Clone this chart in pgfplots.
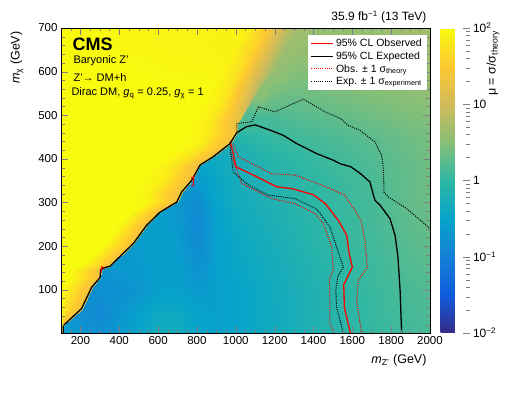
\documentclass[border=0pt]{standalone}
\usepackage{fontspec}
\setmainfont{Liberation Sans}
\usepackage{pgfplots}
\pgfplotsset{compat=1.18}

% ROOT kBird palette
\pgfplotsset{colormap={bird}{
  rgb=(0.2082,0.1664,0.5293) rgb=(0.0592,0.3599,0.8684)
  rgb=(0.0780,0.5041,0.8385) rgb=(0.0232,0.6419,0.7914)
  rgb=(0.1802,0.7178,0.6425) rgb=(0.5301,0.7492,0.4662)
  rgb=(0.8186,0.7328,0.3499) rgb=(0.9956,0.7862,0.1968)
  rgb=(0.9764,0.9832,0.0539)}}

\begin{document}
\begin{tikzpicture}
\path[use as bounding box] (-61pt,-59pt) rectangle (446pt,333pt);
\begin{axis}[
  at={(0pt,0pt)}, anchor=south west,
  scale only axis, width=369pt, height=305pt,
  xmin=100, xmax=2000, ymin=1, ymax=700,
  xtick={200,400,...,2000}, ytick={100,200,...,700},
  minor xtick={150,200,...,2000}, minor ytick={20,40,...,700},
  tick align=inside, major tick length=7pt, minor tick length=3.5pt,
  tick label style={font=\fontsize{11.5}{13}\selectfont},
  /pgf/number format/assume math mode=true,
  /pgf/number format/1000 sep={},
  axis on top,
  colormap name=bird,
  point meta min=-2, point meta max=2,
  colorbar,
  colorbar style={
    at={(parent axis.north east)}, anchor=north west, xshift=2pt,
    scale only axis, width=29pt, height=305pt,
    ytick={-2,-1,0,1,2},
    yticklabels={10\textsuperscript{−2},10\textsuperscript{−1},1,10,10\textsuperscript{2}},
    minor ytick={-1.699,-1.523,-1.398,-1.301,-1.222,-1.155,-1.097,-1.046,
                 -0.699,-0.523,-0.398,-0.301,-0.222,-0.155,-0.097,-0.046,
                 0.301,0.477,0.602,0.699,0.778,0.845,0.903,0.954,
                 1.301,1.477,1.602,1.699,1.778,1.845,1.903,1.954},
    ytick pos=right, yticklabel pos=right,
    tick align=inside, major tick length=7pt, minor tick length=3.5pt,
    axis line style={draw=none},
    yticklabel style={font=\fontsize{12}{13}\selectfont},
  },
  legend style={at={(0.992,0.977)}, anchor=north east, draw=none, fill=white,
    font=\fontsize{10.5}{12}\selectfont, inner xsep=3pt, inner ysep=2pt, row sep=-0.5pt},
  legend cell align=left,
  legend image code/.code={\draw[mark repeat=2,mark phase=2,#1]
    plot coordinates {(0pt,0pt) (11pt,0pt) (22pt,0pt)};},
]

% background field, log10(mu)
\addplot[surf, shader=interp, forget plot, point meta=explicit, mesh/cols=20] table[row sep=\\, meta=L] {
x y L\\
100 0 -0.55\\ 200 0 -0.7\\ 300 0 -0.8\\ 400 0 -0.65\\ 500 0 -0.5\\ 600 0 -0.3\\ 700 0 -0.3\\ 800 0 -0.5\\ 900 0 -0.55\\ 1000 0 -0.5\\ 1100 0 -0.42\\ 1200 0 -0.35\\ 1300 0 -0.27\\ 1400 0 -0.18\\ 1500 0 -0.1\\ 1600 0 -0.03\\ 1700 0 0.03\\ 1800 0 0.08\\ 1900 0 0.12\\ 2000 0 0.15\\
100 50 -0.65\\ 200 50 -0.8\\ 300 50 -0.9\\ 400 50 -0.7\\ 500 50 -0.55\\ 600 50 -0.4\\ 700 50 -0.4\\ 800 50 -0.5\\ 900 50 -0.55\\ 1000 50 -0.5\\ 1100 50 -0.42\\ 1200 50 -0.35\\ 1300 50 -0.27\\ 1400 50 -0.18\\ 1500 50 -0.1\\ 1600 50 -0.02\\ 1700 50 0.04\\ 1800 50 0.1\\ 1900 50 0.14\\ 2000 50 0.17\\
100 100 -0.65\\ 200 100 -0.75\\ 300 100 -0.8\\ 400 100 -0.8\\ 500 100 -0.7\\ 600 100 -0.55\\ 700 100 -0.55\\ 800 100 -0.65\\ 900 100 -0.55\\ 1000 100 -0.5\\ 1100 100 -0.42\\ 1200 100 -0.33\\ 1300 100 -0.25\\ 1400 100 -0.16\\ 1500 100 -0.08\\ 1600 100 0.0\\ 1700 100 0.06\\ 1800 100 0.12\\ 1900 100 0.16\\ 2000 100 0.2\\
100 150 -0.65\\ 200 150 -0.65\\ 300 150 -0.7\\ 400 150 -0.65\\ 500 150 -0.65\\ 600 150 -0.55\\ 700 150 -0.57\\ 800 150 -0.75\\ 900 150 -0.55\\ 1000 150 -0.45\\ 1100 150 -0.38\\ 1200 150 -0.3\\ 1300 150 -0.22\\ 1400 150 -0.13\\ 1500 150 -0.05\\ 1600 150 0.02\\ 1700 150 0.08\\ 1800 150 0.14\\ 1900 150 0.2\\ 2000 150 0.24\\
100 200 -0.65\\ 200 200 -0.65\\ 300 200 -0.65\\ 400 200 -0.65\\ 500 200 -0.6\\ 600 200 -0.55\\ 700 200 -0.6\\ 800 200 -0.85\\ 900 200 -0.55\\ 1000 200 -0.42\\ 1100 200 -0.34\\ 1200 200 -0.26\\ 1300 200 -0.18\\ 1400 200 -0.09\\ 1500 200 -0.02\\ 1600 200 0.05\\ 1700 200 0.1\\ 1800 200 0.17\\ 1900 200 0.24\\ 2000 200 0.28\\
100 250 -0.65\\ 200 250 -0.65\\ 300 250 -0.65\\ 400 250 -0.65\\ 500 250 -0.6\\ 600 250 -0.55\\ 700 250 -0.65\\ 800 250 -0.9\\ 900 250 -0.55\\ 1000 250 -0.38\\ 1100 250 -0.3\\ 1200 250 -0.22\\ 1300 250 -0.13\\ 1400 250 -0.06\\ 1500 250 0.0\\ 1600 250 0.06\\ 1700 250 0.12\\ 1800 250 0.2\\ 1900 250 0.27\\ 2000 250 0.32\\
100 300 -0.65\\ 200 300 -0.65\\ 300 300 -0.65\\ 400 300 -0.65\\ 500 300 -0.6\\ 600 300 -0.55\\ 700 300 -0.65\\ 800 300 -0.85\\ 900 300 -0.5\\ 1000 300 -0.33\\ 1100 300 -0.26\\ 1200 300 -0.17\\ 1300 300 -0.09\\ 1400 300 -0.03\\ 1500 300 0.03\\ 1600 300 0.08\\ 1700 300 0.14\\ 1800 300 0.22\\ 1900 300 0.3\\ 2000 300 0.35\\
100 350 -0.65\\ 200 350 -0.65\\ 300 350 -0.65\\ 400 350 -0.65\\ 500 350 -0.6\\ 600 350 -0.55\\ 700 350 -0.6\\ 800 350 -0.65\\ 900 350 -0.45\\ 1000 350 -0.3\\ 1100 350 -0.22\\ 1200 350 -0.13\\ 1300 350 -0.06\\ 1400 350 0.0\\ 1500 350 0.05\\ 1600 350 0.1\\ 1700 350 0.16\\ 1800 350 0.24\\ 1900 350 0.3\\ 2000 350 0.36\\
100 400 -0.55\\ 200 400 -0.55\\ 300 400 -0.55\\ 400 400 -0.55\\ 500 400 -0.55\\ 600 400 -0.5\\ 700 400 -0.5\\ 800 400 -0.48\\ 900 400 -0.38\\ 1000 400 -0.26\\ 1100 400 -0.17\\ 1200 400 -0.08\\ 1300 400 -0.02\\ 1400 400 0.04\\ 1500 400 0.1\\ 1600 400 0.13\\ 1700 400 0.19\\ 1800 400 0.26\\ 1900 400 0.32\\ 2000 400 0.38\\
100 450 -0.4\\ 200 450 -0.4\\ 300 450 -0.4\\ 400 450 -0.4\\ 500 450 -0.4\\ 600 450 -0.4\\ 700 450 -0.4\\ 800 450 -0.38\\ 900 450 -0.25\\ 1000 450 -0.12\\ 1100 450 -0.02\\ 1200 450 0.05\\ 1300 450 0.1\\ 1400 450 0.13\\ 1500 450 0.17\\ 1600 450 0.21\\ 1700 450 0.26\\ 1800 450 0.31\\ 1900 450 0.36\\ 2000 450 0.41\\
100 500 0.4\\ 200 500 0.4\\ 300 500 0.4\\ 400 500 0.4\\ 500 500 0.4\\ 600 500 0.4\\ 700 500 0.4\\ 800 500 0.4\\ 900 500 0.4\\ 1000 500 0.3\\ 1100 500 0.15\\ 1200 500 0.17\\ 1300 500 0.22\\ 1400 500 0.26\\ 1500 500 0.29\\ 1600 500 0.33\\ 1700 500 0.37\\ 1800 500 0.41\\ 1900 500 0.45\\ 2000 500 0.48\\
100 550 0.6\\ 200 550 0.6\\ 300 550 0.6\\ 400 550 0.6\\ 500 550 0.6\\ 600 550 0.6\\ 700 550 0.6\\ 800 550 0.6\\ 900 550 0.6\\ 1000 550 0.6\\ 1100 550 0.6\\ 1200 550 0.4\\ 1300 550 0.35\\ 1400 550 0.38\\ 1500 550 0.42\\ 1600 550 0.45\\ 1700 550 0.48\\ 1800 550 0.51\\ 1900 550 0.54\\ 2000 550 0.57\\
100 600 0.7\\ 200 600 0.7\\ 300 600 0.7\\ 400 600 0.7\\ 500 600 0.7\\ 600 600 0.7\\ 700 600 0.7\\ 800 600 0.7\\ 900 600 0.7\\ 1000 600 0.7\\ 1100 600 0.7\\ 1200 600 0.6\\ 1300 600 0.48\\ 1400 600 0.48\\ 1500 600 0.5\\ 1600 600 0.53\\ 1700 600 0.55\\ 1800 600 0.57\\ 1900 600 0.6\\ 2000 600 0.62\\
100 650 0.7\\ 200 650 0.7\\ 300 650 0.7\\ 400 650 0.7\\ 500 650 0.7\\ 600 650 0.7\\ 700 650 0.7\\ 800 650 0.7\\ 900 650 0.7\\ 1000 650 0.7\\ 1100 650 0.7\\ 1200 650 0.7\\ 1300 650 0.62\\ 1400 650 0.55\\ 1500 650 0.55\\ 1600 650 0.57\\ 1700 650 0.59\\ 1800 650 0.61\\ 1900 650 0.63\\ 2000 650 0.65\\
100 700 0.7\\ 200 700 0.7\\ 300 700 0.7\\ 400 700 0.7\\ 500 700 0.7\\ 600 700 0.7\\ 700 700 0.7\\ 800 700 0.7\\ 900 700 0.7\\ 1000 700 0.7\\ 1100 700 0.7\\ 1200 700 0.7\\ 1300 700 0.7\\ 1400 700 0.62\\ 1500 700 0.6\\ 1600 700 0.61\\ 1700 700 0.62\\ 1800 700 0.64\\ 1900 700 0.66\\ 2000 700 0.68\\
};

% region above the diagonal (m_chi large), edge follows the diagonal
\addplot[surf, shader=interp, forget plot, point meta=explicit, mesh/cols=5] table[row sep=\\, meta=L] {
x y L\\
100 0 2.0\\ 100 0 2.0\\ 100 0 2.0\\ 100 0 1.65\\ 112 0 1.3\\
100 18 2.0\\ 100 18 2.0\\ 100 18 2.0\\ 100 18 1.65\\ 112 18 1.3\\
100 57 2.0\\ 100 57 2.0\\ 100 57 2.0\\ 136 57 1.65\\ 206 57 1.3\\
100 106 2.0\\ 100 106 2.0\\ 108 106 2.0\\ 188 106 1.65\\ 258 106 1.3\\
100 128 2.0\\ 100 128 2.0\\ 151 128 2.0\\ 231 128 1.65\\ 301 128 1.3\\
100 146 2.0\\ 100 146 2.0\\ 154 146 2.0\\ 234 146 1.65\\ 304 146 1.3\\
100 151 2.0\\ 100 151 2.0\\ 177 151 2.0\\ 257 151 1.65\\ 327 151 1.3\\
100 154 2.0\\ 102 154 2.0\\ 202 154 2.0\\ 282 154 1.65\\ 352 154 1.3\\
100 206 2.0\\ 222 206 2.0\\ 322 206 2.0\\ 402 206 1.65\\ 472 206 1.3\\
100 248 2.0\\ 291 248 2.0\\ 391 248 2.0\\ 471 248 1.65\\ 541 248 1.3\\
100 278 2.0\\ 360 278 2.0\\ 460 278 2.0\\ 540 278 1.65\\ 610 278 1.3\\
100 301 2.0\\ 446 301 2.0\\ 546 301 1.95\\ 626 301 1.6\\ 696 301 1.3\\
100 324 2.0\\ 471 324 2.0\\ 571 324 1.85\\ 651 324 1.55\\ 721 324 1.3\\
100 351 2.0\\ 523 351 2.0\\ 623 351 1.85\\ 703 351 1.55\\ 773 351 1.3\\
100 386 2.0\\ 566 386 2.0\\ 666 386 1.85\\ 746 386 1.55\\ 816 386 1.3\\
100 405 2.0\\ 634 405 2.0\\ 734 405 1.85\\ 814 405 1.55\\ 884 405 1.3\\
100 435 2.0\\ 720 435 2.0\\ 820 435 1.85\\ 900 435 1.55\\ 970 435 1.3\\
100 460 2.0\\ 755 460 2.0\\ 855 460 1.85\\ 935 460 1.55\\ 1005 460 1.3\\
100 481 2.0\\ 758 481 2.0\\ 858 481 1.85\\ 938 481 1.5\\ 1008 481 1.2\\
100 520 2.0\\ 810 520 2.0\\ 910 520 1.85\\ 990 520 1.45\\ 1060 520 1.0\\
100 560 2.0\\ 860 560 2.0\\ 960 560 1.8\\ 1040 560 1.3\\ 1110 560 0.85\\
100 600 2.0\\ 920 600 1.95\\ 1020 600 1.7\\ 1100 600 1.2\\ 1170 600 0.75\\
100 650 2.0\\ 990 650 1.9\\ 1090 650 1.6\\ 1170 650 1.1\\ 1240 650 0.7\\
100 700 2.0\\ 1060 700 1.9\\ 1160 700 1.5\\ 1240 700 1.0\\ 1310 700 0.7\\
};

% observed
\addplot[color=red, no markers, line width=1.3pt] coordinates {
(972,440) (987,412) (1000,382) (1090,363) (1211,336) (1288,332) (1399,318)
(1462,297) (1528,259) (1571,225) (1583,185) (1600,152) (1556,112) (1559,60) (1590,1)};
\addlegendentry{95\% CL Observed}
% expected
\addplot[color=black, no markers, line width=1.3pt] coordinates {
(112,1) (112,18) (206,57) (258,106) (301,128) (304,146) (327,151) (352,154)
(472,206) (541,248) (610,278) (696,301) (721,324) (773,351) (816,386) (884,405)
(970,435) (1005,460) (1056,474) (1100,478) (1176,466) (1245,454) (1314,435)
(1417,412) (1502,397) (1537,389) (1592,382) (1640,367) (1691,347) (1708,318)
(1717,305) (1743,294) (1794,263) (1820,225) (1835,175) (1846,99) (1854,1)};
\addlegendentry{95\% CL Expected}
% observed +1 sigma theory
\addplot[color=red, no markers, line width=1pt, dash pattern=on 1pt off 1.2pt] coordinates {
(987,435) (1013,405) (1185,366) (1305,363) (1442,340) (1562,317) (1585,300)
(1620,278) (1645,258) (1665,213) (1677,152) (1631,122) (1622,76) (1648,1)};
\addlegendentry{Obs. ± 1 σ\textsubscript{theory}}
% expected +1 sigma experiment
\addplot[color=black, no markers, line width=1pt, dash pattern=on 1pt off 1.2pt] coordinates {
(1005,460) (1005,481) (1082,485) (1116,519) (1202,508) (1348,537) (1459,508)
(1537,493) (1579,477) (1640,465) (1717,439) (1751,408) (1760,378) (1763,324)
(1785,313) (1880,286) (1991,244) (2000,240)};
\addlegendentry{Exp. ± 1 σ\textsubscript{experiment}}
% observed -1 sigma theory
\addplot[color=red, no markers, line width=1pt, dash pattern=on 1pt off 1.2pt, forget plot] coordinates {
(970,416) (1030,344) (1185,309) (1300,298) (1408,275) (1451,252) (1494,198)
(1502,145) (1482,125) (1485,76) (1485,22) (1507,1)};
% expected -1 sigma experiment
\addplot[color=black, no markers, line width=1pt, dash pattern=on 1pt off 1.2pt, forget plot] coordinates {
(970,431) (987,370) (1065,340) (1167,317) (1305,309) (1417,285) (1485,244)
(1519,198) (1554,152) (1525,130) (1515,99) (1519,60) (1554,1)};
% small observed pieces on the diagonal
\addplot[color=red, no markers, line width=1.2pt, forget plot] coordinates {(306,140) (309,152) (322,151)};
\addplot[color=red, no markers, line width=1.2pt, forget plot] coordinates {(770,356) (782,358) (783,340) (772,338)};
\end{axis}

\node[anchor=west, font=\bfseries\fontsize{18}{20}\selectfont] at (8pt,289pt) {CMS};
\node[anchor=west, font=\fontsize{11}{12}\selectfont] at (9pt,272pt) {Baryonic Z'};
\node[anchor=west, font=\fontsize{11}{12}\selectfont] at (9pt,255pt) {Z'→ DM+h};
\node[anchor=west, font=\fontsize{11}{12}\selectfont] at (7pt,240pt)
  {Dirac DM, \textit{g}\textsubscript{q} = 0.25, \textit{g}\textsubscript{χ} = 1};
\node[anchor=east, font=\fontsize{12}{13}\selectfont] at (369pt,316pt) {35.9 fb\textsuperscript{−1} (13 TeV)};
\node[anchor=east, font=\fontsize{12.5}{14}\selectfont] at (369pt,-27pt) {\textit{m}\textsubscript{Z'} (GeV)};
\node[rotate=90, anchor=east, font=\fontsize{12.5}{14}\selectfont] at (-44pt,305pt) {\textit{m}\textsubscript{χ} (GeV)};
\node[rotate=90, anchor=east, font=\fontsize{12.5}{14}\selectfont] at (432pt,306pt) {μ = σ/σ\textsubscript{theory}};
\end{tikzpicture}
\end{document}
